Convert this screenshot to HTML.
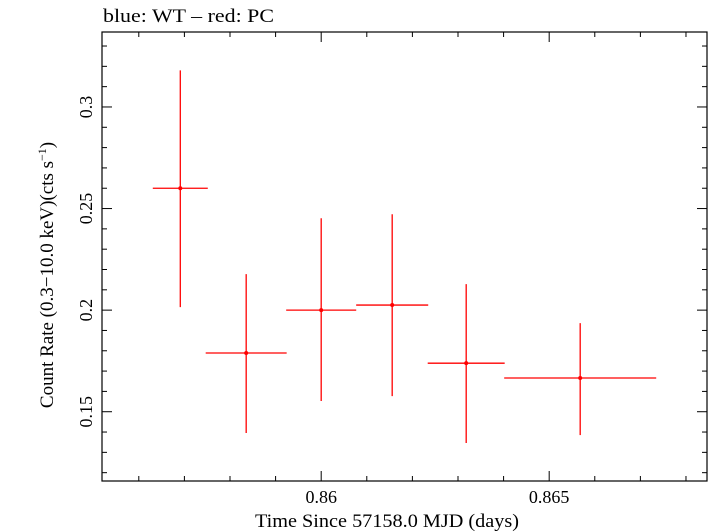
<!DOCTYPE html>
<html><head><meta charset="utf-8"><style>
body{margin:0;background:#fff;}
svg{display:block;font-family:"Liberation Serif",serif;}
</style></head><body>
<svg id="chart" width="709" height="532">
<text x="103" y="22" font-size="19" textLength="171" lengthAdjust="spacingAndGlyphs">blue: WT – red: PC</text>
<rect x="102" y="32" width="605" height="449" fill="none" stroke="#000" stroke-width="1.2"/>
<g id="ticks"></g>
<g id="marks"></g>
<text x="387" y="527" font-size="19" text-anchor="middle" textLength="264" lengthAdjust="spacingAndGlyphs">Time Since 57158.0 MJD (days)</text>
<text transform="translate(53,275) rotate(-90)" font-size="19" text-anchor="middle">Count Rate (0.3−10.0 keV)(cts s<tspan dy="-7" font-size="12">−1</tspan><tspan dy="7">)</tspan></text>
</svg>
<script>
const times=[0.85691,0.858355,0.86,0.861557,0.86318,0.86568];
const timeErr=[0.000603,0.000888,0.000768,0.00079,0.000844,0.001667];
const rates=[0.2600,0.1789,0.2000,0.2025,0.1739,0.1666];
const rateErrHi=[0.0580,0.0388,0.0452,0.0447,0.0389,0.0270];
const rateErrLo=[0.0585,0.0394,0.0447,0.0448,0.0393,0.0281];
const xTickLabels=["0.86","0.865"];
const yTickLabels=["0.15","0.2","0.25","0.3"];
const X0=0.855193,X1=0.868461,Y0=0.1159,Y1=0.3369;
const L=102,R=707,T=32,B=481;
function sx(v){return L+(v-X0)/(X1-X0)*(R-L);}
function sy(v){return B-(v-Y0)/(Y1-Y0)*(B-T);}
const NS="http://www.w3.org/2000/svg";
function mk(tag,attrs,parent){const e=document.createElementNS(NS,tag);for(const k in attrs)e.setAttribute(k,attrs[k]);parent.appendChild(e);return e;}
const tg=document.getElementById('ticks'),mg=document.getElementById('marks');
for(let i=Math.ceil(X0*1000);i<=Math.floor(X1*1000);i++){
  const x=sx(i/1000),major=(i%5===0),len=major?10:5;
  const t1=mk('line',{x1:x,x2:x,y1:B,y2:B-len,stroke:'#000'},tg);
  
  
  const t2=mk('line',{x1:x,x2:x,y1:T,y2:T+len,stroke:'#000'},tg);
  
  
}
xTickLabels.forEach(s=>{
  const t=mk('text',{x:sx(parseFloat(s)),y:B+22,'font-size':18,'text-anchor':'middle'},tg);
  t.textContent=s;
  
  
});
for(let i=Math.ceil(Y0*100);i<=Math.floor(Y1*100);i++){
  const y=sy(i/100),major=(i%5===0),len=major?10:5;
  const t1=mk('line',{x1:L,x2:L+len,y1:y,y2:y,stroke:'#000'},tg);
  
  
  const t2=mk('line',{x1:R,x2:R-len,y1:y,y2:y,stroke:'#000'},tg);
  
  
}
yTickLabels.forEach(s=>{
  const y=sy(parseFloat(s));
  const t=mk('text',{transform:`translate(92,${y}) rotate(-90)`,'font-size':18,'text-anchor':'middle'},tg);
  t.textContent=s;
  
  
});
times.forEach((t,i)=>{
  const g=mk('g',{},mg);
  
  
  mk('line',{x1:sx(t-timeErr[i]),x2:sx(t+timeErr[i]),y1:sy(rates[i]),y2:sy(rates[i]),stroke:'#f00','stroke-width':1.3},g);
  mk('line',{x1:sx(t),x2:sx(t),y1:sy(rates[i]+rateErrHi[i]),y2:sy(rates[i]-rateErrLo[i]),stroke:'#f00','stroke-width':1.3},g);
  mk('circle',{cx:sx(t),cy:sy(rates[i]),r:2,fill:'#f00'},g);
});
</script>
</body></html>
